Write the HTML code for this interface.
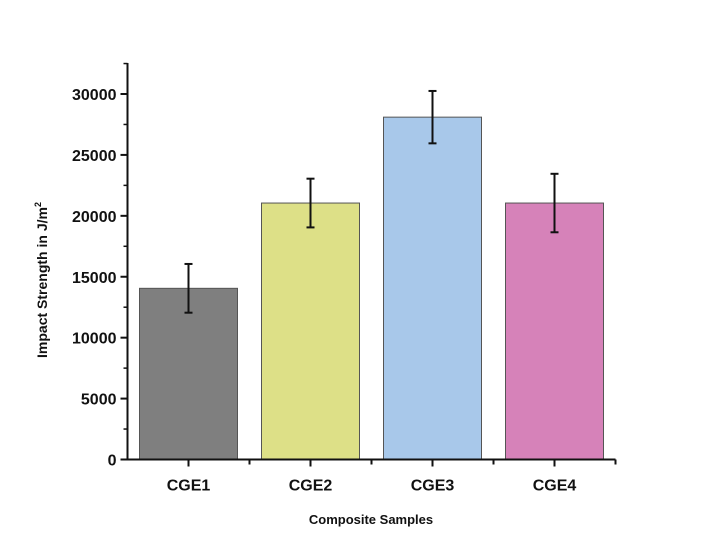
<!DOCTYPE html>
<html><head><meta charset="utf-8"><style>
body{margin:0;background:#fff}
svg text{font-family:"Liberation Sans",Arial,sans-serif;font-weight:bold;fill:#111}
</style></head><body>
<svg id="chart" width="714" height="551" xmlns="http://www.w3.org/2000/svg">
<g id="plot"></g>
</svg>
<script>
const categories=["CGE1","CGE2","CGE3","CGE4"];
const values=[14050,21050,28100,21050];
const errors=[2000,2000,2150,2400];
const colors=["#7f7f7f","#dde087","#a8c8ea","#d682b9"];
const yTicks=[0,5000,10000,15000,20000,25000,30000];
const NS="http://www.w3.org/2000/svg";
const X0=127.5,X1=615.5,Y0=459.5,YTOP=63;
const yScale=v=>Y0-v/30000*365.5;
const band=(X1-X0)/categories.length;
const xCenter=i=>X0+band*(i+0.5);
const g=document.getElementById('plot');
function mk(t,a){const e=document.createElementNS(NS,t);for(const k in a)e.setAttribute(k,a[k]);g.appendChild(e);return e;}
categories.forEach((c,i)=>{
 const w=98,cx=xCenter(i),y=yScale(values[i]);
 const r=mk('rect',{x:cx-w/2,y:y,width:w,height:Y0-y,fill:colors[i],stroke:'#555','stroke-width':1});
 
 
 const eg=document.createElementNS(NS,'g');g.appendChild(eg);
 
 
 const yt=yScale(values[i]+errors[i]),yb=yScale(values[i]-errors[i]);
 [[cx,yt,cx,yb],[cx-4,yt,cx+4,yt],[cx-4,yb,cx+4,yb]].forEach(l=>{
  const e=document.createElementNS(NS,'line');
  e.setAttribute('x1',l[0]);e.setAttribute('y1',l[1]);e.setAttribute('x2',l[2]);e.setAttribute('y2',l[3]);
  e.setAttribute('stroke','#111');e.setAttribute('stroke-width',2);eg.appendChild(e);});
 const t=mk('text',{x:cx,y:Y0+31,'text-anchor':'middle','font-size':16});t.textContent=c;
 
 
 mk('line',{x1:cx,y1:Y0,x2:cx,y2:Y0+7,stroke:'#111','stroke-width':2});
 if(i>0)mk('line',{x1:X0+band*i,y1:Y0,x2:X0+band*i,y2:Y0+5,stroke:'#111','stroke-width':2});
});
const ya=mk('line',{x1:X0,y1:YTOP,x2:X0,y2:Y0+1,stroke:'#111','stroke-width':2});


const xa=mk('line',{x1:X0-6,y1:Y0,x2:X1,y2:Y0,stroke:'#111','stroke-width':2});


mk('line',{x1:X1,y1:Y0,x2:X1,y2:Y0+5,stroke:'#111','stroke-width':2});
yTicks.forEach(v=>{
 const y=yScale(v);
 mk('line',{x1:X0-7,y1:y,x2:X0,y2:y,stroke:'#111','stroke-width':2});
 const m=yScale(v+2500);
 if(m>YTOP)mk('line',{x1:X0-4,y1:m,x2:X0,y2:m,stroke:'#111','stroke-width':1.5});
 const t=mk('text',{x:X0-11,y:y+6,'text-anchor':'end','font-size':16});t.textContent=v;
 
 
});
const xt=mk('text',{x:371,y:524,'text-anchor':'middle','font-size':13});xt.textContent='Composite Samples';


const yt=mk('text',{x:0,y:0,'text-anchor':'middle','font-size':14,transform:'translate(47,280) rotate(-90)'});
yt.innerHTML='Impact Strength in J/m<tspan dy="-6" font-size="9">2</tspan>';


</script>
</body></html>
